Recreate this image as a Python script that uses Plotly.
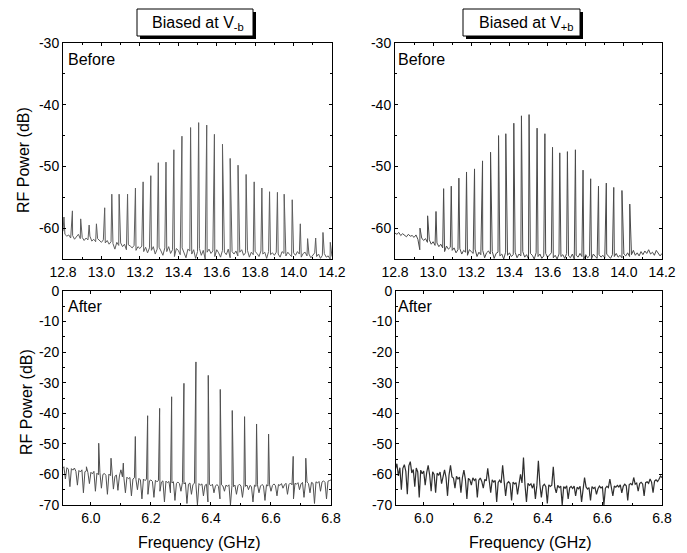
import numpy as np
import plotly.graph_objects as go

# ---------------- data ----------------
# Top-left: "Before", biased at V-b  (noise floor on a 0.01 GHz grid from 12.80 to 14.20)
tl_floor_start, tl_floor_step = 12.80, 0.01
tl_floor_db = [
    -60.5, -61.0, -61.3, -61.1, -61.6, -61.2, -61.8, -61.4, -61.0, -61.7,
    -61.5, -62.0, -61.6, -61.9, -61.3, -62.1, -61.8, -62.2, -61.7, -62.0,
    -62.3, -61.9, -62.4, -62.0, -62.6, -62.2, -62.5, -63.4, -62.3, -62.8,
    -62.4, -63.0, -62.6, -63.5, -62.7, -62.9, -63.2, -62.8, -63.6, -63.0,
    -63.3, -62.9, -63.8, -63.1, -64.0, -63.2, -63.6, -63.0, -64.2, -63.4,
    -63.1, -63.7, -64.4, -63.2, -63.8, -63.0, -64.1, -63.5, -64.6, -63.3,
    -63.6, -64.3, -63.2, -63.9, -64.8, -63.4, -63.7, -64.2, -63.5, -64.9,
    -63.8, -63.3, -64.4, -63.6, -65.0, -63.9, -63.4, -64.1, -63.7, -64.6,
    -63.5, -64.0, -64.7, -63.6, -63.9, -64.3, -63.4, -64.8, -63.8, -64.2,
    -63.7, -64.5, -63.9, -63.5, -64.4, -64.0, -63.6, -64.7, -63.9, -64.3,
    -63.8, -64.1, -64.6, -63.7, -64.2, -63.9, -64.9, -63.8, -64.3, -64.0,
    -64.4, -63.9, -64.2, -64.7, -63.8, -64.1, -64.5, -63.9, -64.3, -64.6,
    -64.0, -64.4, -63.8, -64.2, -64.7, -64.1, -63.9, -64.5, -64.2, -64.8,
    -64.3, -64.0, -64.6, -64.2, -64.9, -64.4, -64.1, -64.7, -64.5, -65.0,
    -64.6,
]
tl_peak_ghz = [12.805, 12.849, 12.892, 12.936, 12.974, 13.017, 13.054, 13.092, 13.136,
               13.177, 13.217, 13.257, 13.296, 13.336, 13.377, 13.419, 13.464, 13.506,
               13.548, 13.588, 13.630, 13.670, 13.711, 13.753, 13.795, 13.835, 13.875,
               13.916, 13.951, 13.993, 14.035, 14.073, 14.115, 14.153, 14.191]
tl_peak_db = [-58.2, -57.2, -58.5, -59.5, -59.3, -56.7, -54.5, -54.5, -54.5,
              -53.5, -52.5, -51.5, -49.4, -49.3, -47.3, -45.1, -43.7, -42.9,
              -43.3, -44.8, -46.4, -48.7, -49.8, -51.3, -52.5, -53.5, -54.1,
              -54.2, -54.5, -55.4, -59.3, -61.7, -61.6, -60.7, -62.3]

# Top-right: "Before", biased at V+b
tr_floor_start, tr_floor_step = 12.80, 0.01
tr_floor_db = [
    -60.8, -61.0, -60.7, -61.2, -60.9, -61.1, -61.4, -61.0, -61.3, -61.2,
    -61.5, -61.1, -61.8, -63.5, -61.6, -62.0, -61.7, -62.3, -61.9, -62.6,
    -62.2, -62.8, -62.4, -63.0, -62.6, -63.2, -63.8, -62.9, -63.4, -63.1,
    -63.6, -63.2, -64.0, -63.5, -63.3, -64.2, -63.6, -63.9, -64.4, -63.5,
    -63.8, -64.1, -63.4, -64.6, -63.9, -64.3, -63.6, -64.8, -64.0, -63.7,
    -64.2, -63.8, -64.9, -64.1, -63.9, -64.5, -64.2, -65.0, -63.9, -64.4,
    -64.0, -64.6, -64.3, -63.9, -64.8, -64.2, -64.5, -63.8, -64.7, -64.3,
    -65.0, -64.1, -64.4, -65.0, -64.0, -64.6, -64.2, -64.9, -64.5, -64.1,
    -64.7, -64.3, -64.0, -64.8, -64.4, -65.0, -64.2, -64.6, -64.3, -64.9,
    -64.1, -64.5, -64.8, -64.2, -65.0, -64.4, -64.7, -64.1, -64.6, -65.0,
    -64.3, -64.8, -64.5, -65.0, -64.2, -64.6, -64.9, -64.3, -64.7, -64.4,
    -64.8, -64.2, -64.5, -64.9, -64.3, -64.6, -64.1, -64.7, -64.4, -64.8,
    -64.2, -64.5, -64.0, -64.6, -64.3, -63.6, -64.4, -64.0, -64.5, -63.8,
    -64.3, -63.7, -64.1, -63.5, -64.2, -63.9, -64.4, -63.6, -64.0, -64.5,
    -64.1,
]
tr_peak_ghz = [12.931, 12.971, 13.015, 13.055, 13.095, 13.135, 13.175, 13.217, 13.259,
               13.301, 13.343, 13.381, 13.423, 13.463, 13.503, 13.545, 13.586, 13.626,
               13.664, 13.704, 13.746, 13.786, 13.826, 13.867, 13.908, 13.947, 13.990,
               14.031]
tr_peak_db = [-60.0, -58.0, -57.3, -53.6, -53.2, -51.9, -50.9, -50.4, -49.1,
              -47.7, -45.0, -44.7, -43.0, -41.8, -41.6, -43.8, -44.7, -46.9,
              -47.8, -47.6, -47.3, -50.6, -52.0, -53.2, -52.7, -53.4, -53.9,
              -56.1]

# Bottom-left: "After", biased at V-b  (noise on a 0.005 GHz grid from 5.90 to 6.80)
bl_floor_start, bl_floor_step = 5.90, 0.005
bl_floor_db = [
    -57.2, -58.0, -57.5, -61.5, -57.8, -58.3, -64.0, -58.1, -58.6, -57.9,
    -59.0, -63.5, -58.7, -59.2, -58.5, -66.0, -59.1, -58.8, -59.4, -63.0,
    -59.3, -59.8, -59.0, -65.5, -59.6, -60.1, -59.4, -64.5, -60.0, -59.7,
    -60.3, -66.5, -59.9, -60.4, -60.1, -64.8, -60.6, -60.2, -65.2, -60.5,
    -58.5, -60.8, -61.2, -66.0, -60.9, -61.4, -61.0, -67.0, -61.5, -61.1,
    -61.6, -65.0, -61.3, -61.8, -68.0, -61.5, -62.0, -61.6, -66.5, -62.1,
    -61.8, -62.3, -67.5, -61.9, -62.4, -62.0, -65.5, -62.5, -62.1, -69.0,
    -62.2, -62.7, -62.3, -66.0, -62.8, -62.4, -68.5, -62.9, -62.5, -63.0,
    -65.5, -62.6, -63.1, -62.7, -69.5, -63.2, -62.8, -66.5, -63.3, -62.9,
    -63.4, -70.0, -63.0, -63.5, -63.1, -67.0, -63.6, -63.2, -69.0, -63.3,
    -63.7, -63.2, -66.0, -63.8, -63.3, -63.9, -68.0, -63.4, -63.8, -65.5,
    -63.5, -63.9, -63.4, -70.0, -63.6, -64.0, -63.5, -66.5, -63.7, -63.2,
    -63.8, -67.5, -63.4, -63.9, -63.5, -65.0, -63.6, -64.0, -69.0, -63.5,
    -63.9, -63.4, -66.0, -63.8, -63.3, -63.7, -68.5, -63.4, -63.8, -63.2,
    -65.5, -63.6, -63.1, -63.7, -67.0, -63.3, -63.6, -63.0, -64.5, -63.4,
    -62.9, -66.5, -63.3, -62.8, -63.4, -68.0, -62.9, -63.2, -62.7, -65.0,
    -63.1, -62.6, -67.5, -62.9, -62.5, -63.0, -66.0, -62.6, -62.9, -69.5,
    -62.4, -62.8, -62.3, -65.5, -62.5, -62.1, -62.6, -68.0, -62.2, -62.0,
    -61.8,
]
bl_peak_ghz = [5.985, 6.026, 6.067, 6.108, 6.148, 6.189, 6.229, 6.269, 6.310, 6.350,
               6.391, 6.431, 6.471, 6.512, 6.552, 6.592, 6.674, 6.716]
bl_peak_db = [-57.5, -49.8, -54.7, -56.3, -47.6, -40.8, -38.4, -34.6, -30.2, -23.2,
              -27.6, -32.2, -39.1, -41.1, -43.5, -46.8, -54.1, -54.7]

# Bottom-right: "After", biased at V+b (noise only)
br_floor_start, br_floor_step = 5.90, 0.005
br_floor_db = [
    -57.5, -58.2, -56.5, -60.5, -57.8, -65.0, -58.0, -56.8, -59.0, -66.5,
    -57.2, -55.8, -59.5, -58.4, -64.0, -57.9, -59.2, -67.5, -58.6, -59.8,
    -58.9, -63.5, -59.4, -57.0, -60.2, -65.5, -59.1, -60.0, -66.0, -59.6,
    -60.3, -59.2, -63.0, -60.5, -58.5, -61.0, -67.0, -60.2, -57.0, -60.8,
    -61.2, -64.5, -60.6, -61.5, -60.9, -66.0, -61.0, -58.6, -61.6, -68.0,
    -61.3, -61.8, -63.5, -61.1, -62.0, -61.4, -67.5, -61.9, -61.2, -62.3,
    -64.5, -61.6, -62.1, -58.0, -62.4, -66.0, -61.8, -62.5, -62.0, -69.0,
    -62.6, -61.9, -62.8, -57.0, -62.2, -67.0, -62.9, -62.4, -63.0, -68.5,
    -62.5, -63.1, -62.7, -66.5, -63.2, -60.0, -62.8, -54.5, -63.4, -69.0,
    -62.9, -63.6, -63.1, -64.5, -63.0, -68.0, -63.5, -55.5, -63.3, -67.5,
    -63.8, -63.2, -64.0, -69.5, -63.4, -63.9, -63.5, -57.5, -64.2, -66.0,
    -63.6, -64.3, -63.8, -70.0, -64.0, -64.5, -63.7, -68.0, -64.4, -63.9,
    -64.6, -63.8, -67.0, -64.2, -64.7, -63.9, -69.0, -64.5, -61.0, -64.1,
    -64.8, -64.3, -68.5, -64.0, -64.6, -64.2, -66.5, -64.7, -63.8, -64.4,
    -64.1, -70.0, -64.5, -63.9, -64.3, -61.5, -64.0, -67.0, -63.8, -64.2,
    -63.6, -64.1, -63.4, -66.0, -63.9, -63.2, -63.7, -68.5, -63.3, -63.0,
    -63.5, -61.0, -63.2, -62.8, -65.5, -63.0, -62.6, -63.1, -67.0, -62.7,
    -62.4, -62.9, -61.5, -62.5, -66.0, -62.2, -61.8, -62.3, -61.6, -60.5,
    -61.0,
]
br_peak_ghz = []
br_peak_db = []

# tick labels
top_y_ticks = [-30, -40, -50, -60]
bot_y_ticks = [0, -10, -20, -30, -40, -50, -60, -70]
top_x_ticks = [12.8, 13.0, 13.2, 13.4, 13.6, 13.8, 14.0, 14.2]
bot_x_ticks = [6.0, 6.2, 6.4, 6.6, 6.8]

# ---------------- build traces ----------------
def spectrum(start, step, floor_db, peak_ghz, peak_db):
    f = start + step * np.arange(len(floor_db))
    x = np.concatenate([f, np.array(peak_ghz, dtype=float)])
    y = np.concatenate([np.array(floor_db, dtype=float), np.array(peak_db, dtype=float)])
    order = np.argsort(x, kind="stable")
    return x[order], y[order]

# page body has an 8px default margin; figure is sized to fit the 687x553 window
OFF = 8
W, H = 687 - OFF, 553 - OFF
def px(v):
    return (v - OFF) / W
def py(v):
    return 1 - (v - OFF) / H

FONT = "Liberation Sans, Arial, Helvetica, sans-serif"

fig = go.Figure()
panels = [
    ("x", "y", spectrum(tl_floor_start, tl_floor_step, tl_floor_db, tl_peak_ghz, tl_peak_db), "#5e5e5e", 1.0),
    ("x2", "y2", spectrum(tr_floor_start, tr_floor_step, tr_floor_db, tr_peak_ghz, tr_peak_db), "#4a4a4a", 1.0),
    ("x3", "y3", spectrum(bl_floor_start, bl_floor_step, bl_floor_db, bl_peak_ghz, bl_peak_db), "#505050", 1.0),
    ("x4", "y4", spectrum(br_floor_start, br_floor_step, br_floor_db, br_peak_ghz, br_peak_db), "#2e2e2e", 1.2),
]
for xa, ya, (xx, yy), col, lw in panels:
    fig.add_trace(go.Scatter(x=xx, y=yy, xaxis=xa, yaxis=ya, mode="lines",
                             line=dict(color=col, width=lw), showlegend=False,
                             hoverinfo="skip", cliponaxis=True))

ax_common = dict(showline=True, linecolor="black", linewidth=1, mirror="ticks",
                 ticks="inside", ticklen=3, tickcolor="black", showgrid=False,
                 zeroline=False, tickfont=dict(family=FONT, size=14, color="black"),
                 fixedrange=True, automargin=False)

def xax(dom, rng, ticks, anchor):
    minor_vals = [round(t + 0.1, 2) for t in ticks[:-1]]
    return dict(domain=dom, range=rng, anchor=anchor, tickvals=ticks,
                ticktext=[f"{t:.1f}" for t in ticks],
                minor=dict(tickvals=minor_vals, ticks="inside", ticklen=2, tickcolor="black"),
                **ax_common)

def yax(dom, rng, ticks, anchor):
    minor_vals = [t - 5 for t in ticks if rng[0] <= t - 5 <= rng[1]]
    return dict(domain=dom, range=rng, anchor=anchor, tickvals=ticks,
                ticktext=[str(t) for t in ticks],
                minor=dict(tickvals=minor_vals, ticks="inside", ticklen=2, tickcolor="black"),
                **ax_common)

top_dom = [py(259), py(43)]
bot_dom = [py(505), py(291)]
fig.update_layout(
    width=W, height=H, margin=dict(l=0, r=0, t=0, b=0, autoexpand=False),
    paper_bgcolor="white", plot_bgcolor="white",
    xaxis=xax([px(63), px(332)], [12.8, 14.2], top_x_ticks, "y"),
    yaxis=yax(top_dom, [-65, -30], top_y_ticks, "x"),
    xaxis2=xax([px(395), px(662)], [12.8, 14.2], top_x_ticks, "y2"),
    yaxis2=yax(top_dom, [-65, -30], top_y_ticks, "x2"),
    xaxis3=xax([px(63), px(331)], [5.907, 6.8], bot_x_ticks, "y3"),
    yaxis3=yax(bot_dom, [-70, 0], bot_y_ticks, "x3"),
    xaxis4=xax([px(396), px(662)], [5.907, 6.8], bot_x_ticks, "y4"),
    yaxis4=yax(bot_dom, [-70, 0], bot_y_ticks, "x4"),
)

# title boxes with drop shadow
shapes = []
for (x0, x1) in [(137, 253), (463, 580)]:
    shapes.append(dict(type="rect", xref="paper", yref="paper",
                       x0=px(x0 + 3), x1=px(x1 + 3), y0=py(39), y1=py(12),
                       fillcolor="black", line=dict(width=0), layer="above"))
    shapes.append(dict(type="rect", xref="paper", yref="paper",
                       x0=px(x0), x1=px(x1), y0=py(36), y1=py(9),
                       fillcolor="white", line=dict(color="black", width=1), layer="above"))
fig.update_layout(shapes=shapes)

ann = []
def text(x, y, s, size, xanchor="center", **kw):
    ann.append(dict(x=px(x), y=py(y), xref="paper", yref="paper", text=s,
                    xanchor=xanchor, yanchor="middle",
                    showarrow=False, font=dict(family=FONT, size=size, color="black"), **kw))

text(198, 23, "Biased at V<sub>-b</sub>", 16)
text(526, 23, "Biased at V<sub>+b</sub>", 16)
text(66, 59, "Before", 16, xanchor="left")
text(396, 59, "Before", 16, xanchor="left")
text(66, 306, "After", 16, xanchor="left")
text(396, 306, "After", 16, xanchor="left")
text(23, 160, "RF Power (dB)", 16, textangle=-90)
text(26, 402, "RF Power (dB)", 16, textangle=-90)
text(199, 542, "Frequency (GHz)", 16)
text(530, 542, "Frequency (GHz)", 16)
fig.update_layout(annotations=ann)

fig.write_html("out.html")
